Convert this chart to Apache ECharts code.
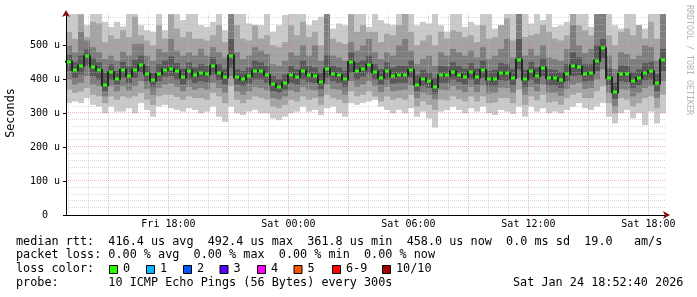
<!DOCTYPE html>
<html><head><meta charset="utf-8">
<script src="https://cdn.jsdelivr.net/npm/echarts@6/dist/echarts.min.js"></script>
<style>html,body{margin:0;padding:0;background:#fff;}#c{width:697px;height:297px;}</style>
</head><body><div id="c"></div>
<script>
// ---- time frame (hours since Fri 00:00) ----
const START_HOUR = 12 + 52/60 + 40/3600;   // Fri 12:52:40
const SPAN_HOURS = 30;
const STEP_HOURS = 0.3;                      // one smoke column
const Y_MAX = 593;                           // microseconds

// ---- x tick labels ----
const xTickHours = [18, 24, 30, 36, 42];
const xTickLabels = ['Fri 18:00', 'Sat 00:00', 'Sat 06:00', 'Sat 12:00', 'Sat 18:00'];
// ---- y tick labels ----
const yTickValues = [0, 100, 200, 300, 400, 500];
const yTickLabels = ['0  ', '100 u', '200 u', '300 u', '400 u', '500 u'];

// ---- median rtt (us) per column ----
const median = [
 452,428,440,468,438,428,383,421,402,428,410,427,442,417,397,416,429,430,424,406,
 426,412,418,415,440,420,406,470,406,400,410,425,424,413,386,379,390,412,407,425,
 414,411,392,430,416,412,400,451,425,430,443,422,405,424,410,412,412,428,385,402,
 396,378,412,412,423,414,407,421,406,428,400,402,420,418,404,458,400,425,410,435,
 404,403,397,417,440,437,417,418,455,492,405,362,416,415,396,404,420,424,388,458];
// ---- smoke: sorted ping values (us) per column ----
const ping1 = [
 330,335,330,345,325,320,300,320,305,305,315,300,330,310,290,320,325,315,310,305,
 315,310,300,305,320,290,275,320,300,295,305,310,300,300,285,280,290,300,305,320,
 305,310,295,315,320,300,290,330,325,330,335,340,320,310,300,310,300,315,290,305,
 285,258,305,310,320,310,300,315,305,320,300,295,310,305,298,320,290,320,305,315,
 300,305,300,310,320,330,315,310,320,330,290,270,300,310,285,300,265,305,270,300];
const ping2 = [
 370,360,365,375,355,350,330,350,340,350,345,350,360,340,325,350,355,355,348,340,
 350,345,345,340,360,350,330,380,340,330,340,350,345,340,320,315,325,340,335,350,
 340,345,325,355,345,340,330,365,350,355,365,350,335,350,340,345,340,355,320,335,
 325,310,340,338,350,342,335,350,335,350,330,332,345,345,330,370,325,350,338,355,
 332,335,325,345,355,360,345,345,365,380,330,300,345,340,320,330,345,350,315,355];
const ping3 = [
 400,385,390,410,385,380,350,380,365,380,368,380,395,372,355,375,385,388,378,365,
 378,370,375,370,390,375,360,410,365,355,365,378,375,368,345,340,350,368,362,378,
 370,368,350,385,372,370,355,395,378,385,395,380,362,378,365,368,370,382,345,360,
 355,340,370,368,380,370,362,378,362,382,358,360,376,375,360,405,355,378,365,385,
 360,360,352,372,385,390,372,375,400,430,360,320,372,370,350,360,375,380,345,395];
const ping4 = [
 425,405,415,440,410,400,365,400,385,405,390,405,420,395,378,395,408,410,400,385,
 400,390,395,392,415,398,385,435,385,380,388,400,400,390,365,360,370,390,385,400,
 392,390,372,405,395,390,378,420,400,408,418,400,385,400,388,390,390,405,365,380,
 375,358,390,390,400,392,385,400,385,405,380,380,398,396,382,430,378,400,388,410,
 382,382,375,395,410,412,395,396,425,462,382,342,395,392,375,382,398,400,365,425];
const ping7 = [
 472,450,470,488,462,450,420,445,425,452,438,458,470,440,420,445,455,468,448,432,
 450,435,445,440,465,445,430,520,430,425,435,455,450,440,410,400,415,440,430,455,
 440,435,420,470,440,435,425,480,450,455,470,445,430,450,435,440,440,455,412,428,
 420,405,440,438,450,440,432,448,432,455,425,428,448,445,430,520,428,452,435,462,
 430,428,422,445,480,465,445,445,500,520,432,390,442,440,422,430,448,452,415,490];
const ping8 = [
 500,480,540,515,495,480,460,470,455,482,470,505,505,470,455,490,480,520,485,470,
 480,470,490,470,495,480,465,592,480,460,470,495,485,475,445,440,455,480,470,500,
 470,500,455,592,470,465,455,510,485,500,520,480,460,480,470,500,520,485,445,460,
 470,440,480,470,490,480,470,485,465,495,460,470,490,520,465,600,470,490,470,500,
 465,460,455,490,560,500,478,490,592,600,470,430,480,475,460,470,500,495,455,592];
const ping9 = [
 540,520,592,525,570,565,510,530,520,545,525,585,530,515,500,560,520,592,550,525,
 540,520,520,515,530,560,510,600,560,520,515,560,520,530,500,495,510,560,530,570,
 525,540,500,600,520,510,505,592,540,560,540,540,510,535,530,560,600,540,500,515,
 530,500,540,520,545,540,525,530,510,560,520,525,560,580,515,600,525,530,535,560,
 540,520,515,530,600,560,545,530,600,600,530,500,540,550,530,560,520,570,520,600];
const ping10 = [
 600,600,600,560,600,600,570,555,570,556,600,600,560,545,540,600,545,600,600,575,
 600,600,560,555,570,600,545,600,600,600,565,548,560,600,540,560,590,600,600,600,
 560,575,585,600,550,565,560,600,600,600,555,600,575,565,560,600,600,600,560,570,
 565,600,560,540,600,600,555,570,560,600,600,550,560,600,600,600,600,565,600,575,
 600,555,560,570,600,600,600,555,600,600,600,560,550,600,600,560,550,600,600,600];

// ---- legend ----
const lossLabels = ['0','1','2','3','4','5','6-9','10/10'];
const lossColors = ['#26ff00','#00b8ff','#0059ff','#5e00ff','#ff00ff','#ff5500','#ff0000','#a10000'];
const statsLine1 = 'median rtt:  416.4 us avg  492.4 us max  361.8 us min  458.0 us now  0.0 ms sd  19.0   am/s';
const statsLine2 = 'packet loss: 0.00 % avg  0.00 % max  0.00 % min  0.00 % now';
const statsLine4 = 'probe:       10 ICMP Echo Pings (56 Bytes) every 300s';
const stampText = 'Sat Jan 24 18:52:40 2026';

// ---- build ----
const END_HOUR = START_HOUR + SPAN_HOURS;
const smokeData = median.map((m, k) => [START_HOUR + k * STEP_HOURS,
  ping1[k], ping2[k], ping3[k], ping4[k], ping7[k], ping8[k], ping9[k], ping10[k]]);
const medianData = median.map((m, k) => [START_HOUR + (k + 0.5) * STEP_HOURS, m,
  k > 0 ? median[k - 1] : m]);
const gridHours = [];
for (let h = Math.ceil(START_HOUR); h <= Math.floor(END_HOUR); h++) gridHours.push([h, 0]);
const gridValues = [];
for (let v = 20; v < Y_MAX; v += 20) gridValues.push([START_HOUR, v]);

const MINOR = 'rgba(185,185,185,0.55)';
const MAJOR = 'rgba(235,110,110,0.5)';
const MONO = "'DejaVu Sans Mono', monospace";

function rectIn(cs, a, b) {
  return echarts.graphic.clipRectByRect(
    {x: a[0], y: a[1], width: b[0] - a[0], height: b[1] - a[1]},
    {x: cs.x, y: cs.y, width: cs.width, height: cs.height});
}
function renderSmoke(params, api) {
  const t0 = api.value(0), t1 = t0 + STEP_HOURS;
  const layers = [[1, 8, '#cacaca'], [2, 7, '#a4a4a4'], [3, 6, '#7e7e7e'], [4, 5, '#585858']];
  const children = [];
  layers.forEach(([lo, hi, color]) => {
    const r = rectIn(params.coordSys, api.coord([t0, api.value(hi)]), api.coord([t1, api.value(lo)]));
    if (r) children.push({type: 'rect', shape: r, style: {fill: color}});
  });
  return {type: 'group', children};
}
function renderMedian(params, api) {
  const tc = api.value(0), m = api.value(1), prev = api.value(2);
  const c = api.coord([tc, m]);
  const b = api.coord([tc - STEP_HOURS / 2, prev]);
  const top = Math.min(c[1], b[1]) - 1, bot = Math.max(c[1], b[1]) + 1;
  return {type: 'group', children: [
    {type: 'rect', shape: {x: Math.round(b[0]) - 1, y: top, width: 2, height: bot - top},
     style: {fill: '#262626'}},
    {type: 'rect', shape: {x: Math.round(c[0]) - 2, y: Math.round(c[1]) - 1.5, width: 4, height: 3},
     style: {fill: '#26ff00'}}
  ]};
}
function renderVGrid(params, api) {
  const h = api.value(0);
  const cs = params.coordSys;
  const x = Math.round(api.coord([h, 0])[0]) + 0.5;
  return {type: 'line', shape: {x1: x, y1: cs.y, x2: x, y2: cs.y + cs.height},
    style: {stroke: (h % 3 === 0) ? MAJOR : MINOR, lineWidth: 1, lineDash: [1, 1]}};
}
function renderHGrid(params, api) {
  const v = api.value(1);
  const cs = params.coordSys;
  const y = Math.round(api.coord([START_HOUR, v])[1]) - 0.5;
  return {type: 'line', shape: {x1: cs.x, y1: y, x2: cs.x + cs.width, y2: y},
    style: {stroke: (v % 100 === 0) ? MAJOR : MINOR, lineWidth: 1, lineDash: [1, 1]}};
}

const graphics = [
  {type: 'text', x: 11, y: 113, rotation: Math.PI / 2,
   style: {text: 'Seconds', font: '11.8px ' + MONO, fill: '#000', textAlign: 'center', textVerticalAlign: 'middle'}},
  {type: 'text', x: 689, y: 60, rotation: -Math.PI / 2,
   style: {text: 'RRDTOOL / TOBI OETIKER', font: '8.3px ' + MONO, fill: '#b4b4b4', textAlign: 'center', textVerticalAlign: 'middle'}},
  {type: 'text', x: 16, y: 241.5, style: {text: statsLine1, font: '11.8px ' + MONO, fill: '#000', textVerticalAlign: 'middle'}},
  {type: 'text', x: 16, y: 255.3, style: {text: statsLine2, font: '11.8px ' + MONO, fill: '#000', textVerticalAlign: 'middle'}},
  {type: 'text', x: 16, y: 269.1, style: {text: 'loss color:', font: '11.8px ' + MONO, fill: '#000', textVerticalAlign: 'middle'}},
  {type: 'text', x: 16, y: 282.9, style: {text: statsLine4, font: '11.8px ' + MONO, fill: '#000', textVerticalAlign: 'middle'}},
  {type: 'text', x: 513, y: 282.9, style: {text: stampText, font: '11.8px ' + MONO, fill: '#000', textVerticalAlign: 'middle'}}
];
const swatchX = [109, 146, 183, 219.5, 257, 293.5, 332, 382];
lossLabels.forEach((lab, i) => {
  graphics.push({type: 'rect', shape: {x: swatchX[i] + 0.5, y: 265.5, width: 8, height: 8},
    style: {fill: lossColors[i], stroke: '#000', lineWidth: 1}});
  graphics.push({type: 'text', x: swatchX[i] + 14, y: 269.1,
    style: {text: lab, font: '11.8px ' + MONO, fill: '#000', textVerticalAlign: 'middle'}});
});

const chart = echarts.init(document.getElementById('c'), null, {renderer: 'canvas'});
chart.setOption({
  animation: false,
  backgroundColor: '#fff',
  grid: {left: 66, top: 14, width: 600, height: 201, containLabel: false},
  xAxis: [{
    type: 'value', min: START_HOUR, max: END_HOUR, z: 6,
    axisLine: {show: true, onZero: false, lineStyle: {color: '#000', width: 1}},
    axisTick: {show: false},
    splitLine: {show: false},
    axisLabel: {customValues: xTickHours, margin: 4, color: '#000', fontFamily: MONO, fontSize: 10,
      formatter: v => xTickLabels[xTickHours.indexOf(Math.round(v))] || ''}
  }, {
    type: 'value', min: START_HOUR, max: END_HOUR, position: 'bottom', z: 7,
    axisLine: {show: true, onZero: false, symbol: ['none', 'arrow'], symbolSize: [6, 7], symbolOffset: [0, 4],
      lineStyle: {color: '#8a0f0f', width: 0}},
    axisTick: {show: false}, axisLabel: {show: false}, splitLine: {show: false}
  }],
  yAxis: [{
    type: 'value', min: 0, max: Y_MAX, interval: 100, z: 6,
    axisLine: {show: true, onZero: false, lineStyle: {color: '#000', width: 1}},
    axisTick: {show: true, length: 3, customValues: yTickValues, lineStyle: {color: '#000'}},
    splitLine: {show: false},
    axisLabel: {customValues: yTickValues, margin: 6, color: '#000', fontFamily: MONO, fontSize: 10,
      formatter: v => yTickLabels[yTickValues.indexOf(Math.round(v))] || ''}
  }, {
    type: 'value', min: 0, max: Y_MAX, position: 'left', z: 7,
    axisLine: {show: true, onZero: false, symbol: ['none', 'arrow'], symbolSize: [6, 7], symbolOffset: [0, 4],
      lineStyle: {color: '#8a0f0f', width: 0}},
    axisTick: {show: false}, axisLabel: {show: false}, splitLine: {show: false}
  }],
  series: [
    {type: 'custom', name: 'smoke', renderItem: renderSmoke, data: smokeData,
     encode: {x: 0, y: [1, 2, 3, 4, 5, 6, 7, 8]}, z: 2, silent: true},
    {type: 'custom', name: 'vgrid', renderItem: renderVGrid, data: gridHours,
     encode: {x: 0, y: 1}, z: 3, silent: true},
    {type: 'custom', name: 'hgrid', renderItem: renderHGrid, data: gridValues,
     encode: {x: 0, y: 1}, z: 3, silent: true},
    {type: 'custom', name: 'median', renderItem: renderMedian, data: medianData,
     encode: {x: 0, y: 1}, z: 5, silent: true}
  ],
  graphic: graphics
});
</script></body></html>
